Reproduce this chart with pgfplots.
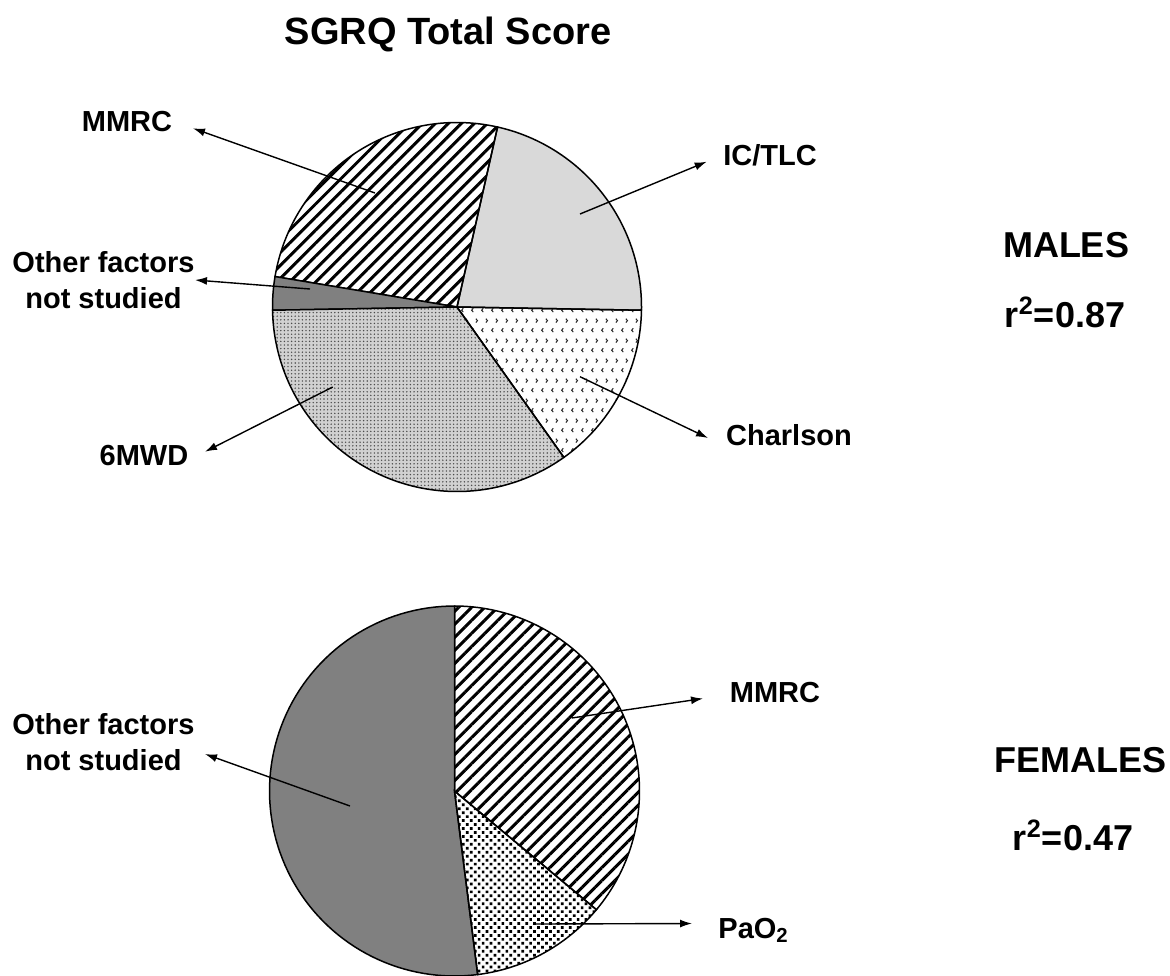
\documentclass[border=0pt]{standalone}
\usepackage{pgfplots}
\pgfplotsset{compat=1.18}
\usepackage{fontspec}
\setmainfont{Liberation Sans}
\usetikzlibrary{patterns,patterns.meta,arrows.meta}

\tikzdeclarepattern{
  name=chevrons,
  type=uncolored,
  bottom left={(0pt,0pt)},
  top right={(5pt,10pt)},
  tile size={(5pt,10pt)},
  code={
    \draw[line width=0.55pt] (1.8pt,1.5pt) -- (0.9pt,2.5pt) -- (1.8pt,3.5pt);
    \draw[line width=0.55pt] (3.2pt,6.5pt) -- (4.1pt,7.5pt) -- (3.2pt,8.5pt);
  }
}

% pie slice: center x, center y, radius, start angle, end angle, style
\newcommand{\slice}[6]{%
  \addplot[#6, domain=#4:#5, samples=90] ({#1+#3*cos(x)},{#2-#3*sin(x)}) -- (axis cs:#1,#2) -- cycle;}

\tikzset{
  lbl/.style={font=\fontsize{14.5}{17}\selectfont\bfseries, anchor=base, inner sep=0pt},
  big/.style={font=\fontsize{18}{21}\selectfont\bfseries, anchor=base, inner sep=0pt},
  arr/.style={line width=0.7pt, -{Latex[length=6pt,width=4pt]}},
  hatch/.style={pattern={Lines[angle=45,distance=4.6pt,line width=1.5pt]}},
}

\begin{document}
\begin{tikzpicture}
\begin{axis}[name=ax, width=585pt, height=487.5pt, scale only axis,
  xmin=0, xmax=1170, ymin=0, ymax=975, y dir=reverse,
  hide axis, clip=true]

% ---- top pie (males), angles in degrees ----
\slice{457}{307}{184.5}{-1}{77.3}{draw=black, line width=0.75pt, fill=black!15}
\slice{457}{307}{184.5}{77.3}{170.5}{draw=black, line width=0.75pt, hatch}
\slice{457}{307}{184.5}{170.5}{181}{draw=black, line width=0.75pt, fill=black!50}
\slice{457}{307}{184.5}{181}{305.4}{draw=none, fill=black!18}
\slice{457}{307}{184.5}{181}{305.4}{draw=black, line width=0.75pt, pattern={Dots[distance=1.8pt,radius=0.4pt]}, pattern color=black!70}
\slice{457}{307}{184.5}{305.4}{359}{draw=black, line width=0.75pt, pattern=chevrons, pattern color=black!85}

% ---- bottom pie (females) ----
\slice{454.5}{791}{185}{-39.9}{90}{draw=black, line width=0.75pt, hatch}
\slice{454.5}{791}{185}{90}{277.2}{draw=black, line width=0.75pt, fill=black!50}
\slice{454.5}{791}{185}{277.2}{320.1}{draw=black, line width=0.75pt, pattern={Dots[distance=2.8pt,radius=0.95pt,angle=45]}, pattern color=black}

% ---- arrows ----
\draw[arr] (axis cs:375,193) -- (axis cs:193,128.3);
\draw[arr] (axis cs:580,214) -- (axis cs:706.7,161.7);
\draw[arr] (axis cs:310,289) -- (axis cs:195,280);
\draw[arr] (axis cs:332.7,387) -- (axis cs:205,451.7);
\draw[arr] (axis cs:580,376.7) -- (axis cs:708,438);
\draw[arr] (axis cs:571.7,718) -- (axis cs:703,698.5);
\draw[arr] (axis cs:350,806) -- (axis cs:205,754);
\draw[arr] (axis cs:533,924) -- (axis cs:692,923.5);

% ---- texts ----
\node[font=\fontsize{19}{22}\selectfont\bfseries, anchor=base, inner sep=0pt] at (axis cs:448,44) {SGRQ Total Score};
\node[lbl] at (axis cs:127,131.7) {MMRC};
\node[lbl] at (axis cs:770,165) {IC/TLC};
\node[lbl] at (axis cs:103.5,272) {Other factors};
\node[lbl] at (axis cs:103.5,308) {not studied};
\node[lbl] at (axis cs:144,465) {6MWD};
\node[lbl] at (axis cs:789,445) {Charlson};
\node[big] at (axis cs:1066,257) {MALES};
\node[big] at (axis cs:1065,327) {r\textsuperscript{2}=0.87};

\node[lbl] at (axis cs:775,702) {MMRC};
\node[lbl] at (axis cs:103.5,734) {Other factors};
\node[lbl] at (axis cs:103.5,770) {not studied};
\node[lbl, anchor=base west] at (axis cs:718,938) {PaO\textsubscript{2}};
\node[big] at (axis cs:1080,772) {FEMALES};
\node[big] at (axis cs:1073,850) {r\textsuperscript{2}=0.47};
\end{axis}
\pgfresetboundingbox
\path[use as bounding box] (ax.south west) rectangle (ax.north east);
\end{tikzpicture}
\end{document}
